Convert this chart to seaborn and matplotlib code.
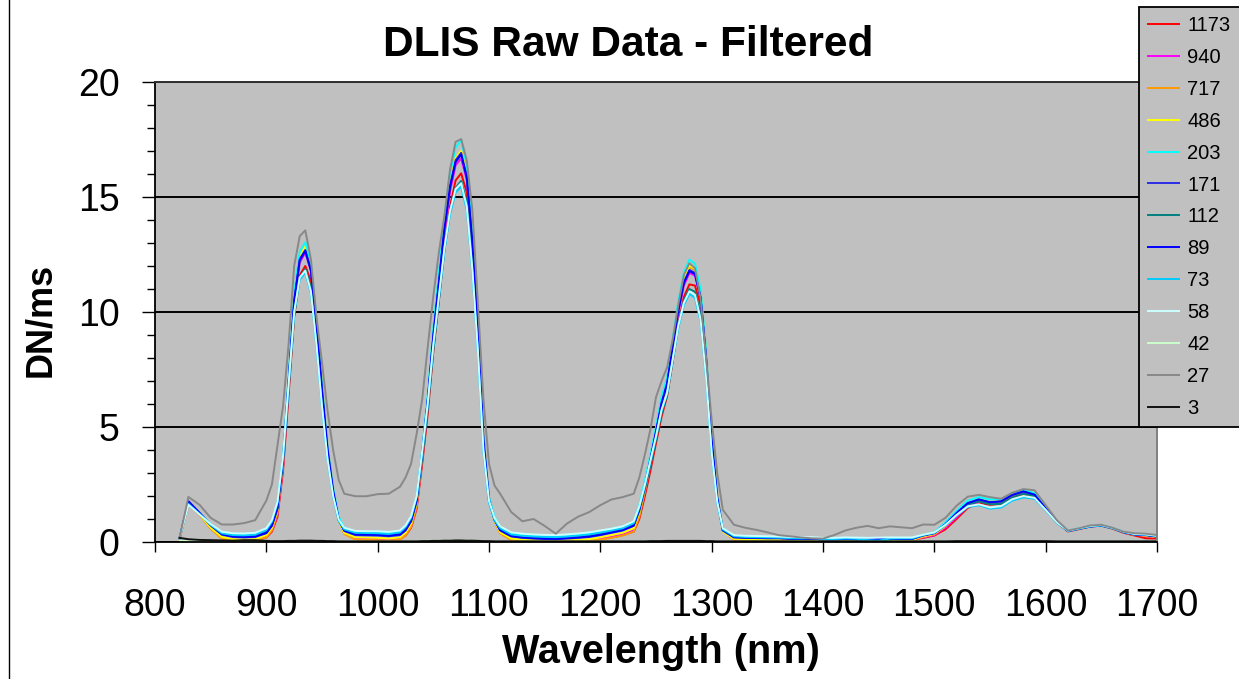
import numpy as np
import pandas as pd
import matplotlib
matplotlib.use("Agg")
import matplotlib.pyplot as plt
from matplotlib.lines import Line2D
from matplotlib.ticker import MultipleLocator
import seaborn as sns

plt.rcParams["font.family"] = ["Liberation Sans", "DejaVu Sans"]

# Shared wavelength grid (nm); finer spacing across the three absorption peaks
wavelength_nm = [
    822, 830, 840, 850, 860, 870, 880, 890, 900,
    905, 910, 915, 920, 925, 930, 935, 940, 945, 950, 955, 960, 965,
    970, 980, 990, 1000, 1010, 1020,
    1025, 1030, 1035, 1040, 1045, 1050, 1055, 1060, 1065, 1070, 1075, 1080, 1085, 1090, 1095, 1100, 1105, 1110,
    1120, 1130, 1140, 1150, 1160, 1170, 1180, 1190, 1200, 1210, 1220, 1230,
    1235, 1240, 1245, 1250, 1255, 1260, 1265, 1270, 1275, 1280, 1285, 1290, 1295, 1300, 1305, 1310,
    1320, 1330, 1340, 1350, 1360, 1370, 1380, 1390, 1400, 1410, 1420, 1430, 1440, 1450, 1460, 1470, 1480,
    1490, 1500, 1510, 1520, 1530, 1540, 1550, 1560, 1570, 1580, 1590, 1600, 1610, 1620, 1630, 1640, 1650,
    1660, 1670, 1680, 1690, 1700,
]

dn_1173 = [
    0.12, 1.65, 1.20, 0.60, 0.18, 0.08, 0.07, 0.08, 0.20,
    0.45, 1.10, 3.10, 6.40, 9.80, 11.60, 12.00, 11.35, 9.20, 6.50, 4.00, 2.25, 1.00,
    0.40, 0.12, 0.11, 0.10, 0.08, 0.12,
    0.28, 0.62, 1.45, 3.40, 5.60, 8.30, 10.50, 12.85, 14.60, 15.72, 16.03, 15.20, 12.70, 9.20, 4.60, 1.95, 0.95, 0.42,
    0.10, 0.06, 0.05, 0.04, 0.04, 0.05, 0.06, 0.08, 0.13, 0.20, 0.30, 0.45,
    1.00, 2.00, 3.10, 4.30, 5.45, 6.35, 7.85, 9.45, 10.65, 11.20, 11.15, 10.30, 7.95, 4.55, 2.05, 0.55,
    0.12, 0.10, 0.10, 0.10, 0.10, 0.09, 0.08, 0.09, 0.06, 0.06, 0.07, 0.07, 0.07, 0.07, 0.08, 0.08, 0.09,
    0.18, 0.28, 0.55, 1.00, 1.48, 1.70, 1.62, 1.66, 1.92, 2.05, 1.98, 1.42, 0.86, 0.46, 0.56, 0.67, 0.71,
    0.58, 0.40, 0.28, 0.16, 0.15,
]
dn_940 = [
    0.12, 1.68, 1.20, 0.60, 0.18, 0.08, 0.07, 0.08, 0.22,
    0.50, 1.20, 3.30, 6.70, 10.25, 12.15, 12.58, 11.80, 9.50, 6.70, 4.10, 2.25, 0.95,
    0.38, 0.14, 0.13, 0.12, 0.10, 0.14,
    0.32, 0.68, 1.55, 3.60, 5.90, 8.75, 11.05, 13.45, 15.25, 16.38, 16.68, 15.75, 13.05, 9.35, 4.55, 1.90, 0.90, 0.40,
    0.10, 0.06, 0.05, 0.04, 0.04, 0.05, 0.06, 0.08, 0.14, 0.22, 0.32, 0.50,
    1.15, 2.20, 3.35, 4.60, 5.80, 6.75, 8.35, 9.95, 11.15, 11.70, 11.58, 10.60, 8.05, 4.50, 1.95, 0.48,
    0.12, 0.10, 0.10, 0.10, 0.10, 0.09, 0.08, 0.09, 0.06, 0.06, 0.07, 0.07, 0.07, 0.07, 0.08, 0.08, 0.09,
    0.20, 0.30, 0.62, 1.08, 1.55, 1.76, 1.68, 1.72, 1.98, 2.12, 2.02, 1.45, 0.88, 0.47, 0.57, 0.68, 0.72,
    0.60, 0.42, 0.31, 0.28, 0.20,
]
dn_717 = [
    0.10, 1.65, 1.18, 0.58, 0.15, 0.06, 0.05, 0.06, 0.20,
    0.50, 1.25, 3.40, 6.85, 10.45, 12.35, 12.78, 11.98, 9.65, 6.80, 4.15, 2.30, 0.95,
    0.35, 0.10, 0.09, 0.08, 0.06, 0.10,
    0.28, 0.65, 1.55, 3.65, 6.00, 8.90, 11.25, 13.70, 15.55, 16.68, 16.97, 16.00, 13.25, 9.50, 4.60, 1.90, 0.90, 0.38,
    0.08, 0.05, 0.04, 0.04, 0.03, 0.04, 0.05, 0.06, 0.10, 0.18, 0.28, 0.45,
    1.10, 2.20, 3.40, 4.65, 5.90, 6.85, 8.50, 10.15, 11.40, 11.95, 11.82, 10.80, 8.20, 4.60, 2.00, 0.50,
    0.10, 0.08, 0.08, 0.08, 0.08, 0.07, 0.06, 0.07, 0.05, 0.05, 0.06, 0.06, 0.06, 0.06, 0.07, 0.07, 0.08,
    0.22, 0.33, 0.68, 1.15, 1.62, 1.82, 1.72, 1.76, 2.03, 2.18, 2.06, 1.47, 0.88, 0.47, 0.57, 0.68, 0.73,
    0.60, 0.42, 0.31, 0.28, 0.20,
]
dn_486 = [
    0.12, 1.70, 1.20, 0.62, 0.22, 0.12, 0.10, 0.12, 0.30,
    0.62, 1.40, 3.60, 7.05, 10.60, 12.43, 12.84, 11.98, 9.60, 6.70, 4.05, 2.20, 0.90,
    0.40, 0.20, 0.19, 0.18, 0.15, 0.20,
    0.40, 0.80, 1.75, 3.85, 6.20, 9.05, 11.35, 13.78, 15.60, 16.70, 17.01, 16.00, 13.20, 9.40, 4.45, 1.80, 0.90, 0.42,
    0.15, 0.10, 0.08, 0.06, 0.05, 0.07, 0.09, 0.12, 0.20, 0.30, 0.40, 0.60,
    1.30, 2.40, 3.60, 4.85, 6.10, 7.00, 8.65, 10.25, 11.47, 12.02, 11.88, 10.80, 8.15, 4.50, 1.95, 0.45,
    0.14, 0.12, 0.12, 0.12, 0.12, 0.10, 0.09, 0.10, 0.07, 0.07, 0.08, 0.08, 0.04, 0.00, 0.08, 0.09, 0.10,
    0.25, 0.36, 0.72, 1.20, 1.65, 1.85, 1.74, 1.78, 2.06, 2.22, 2.08, 1.47, 0.88, 0.47, 0.57, 0.68, 0.72,
    0.60, 0.42, 0.32, 0.29, 0.22,
]
dn_203 = [
    0.15, 1.70, 1.25, 0.78, 0.42, 0.35, 0.33, 0.36, 0.55,
    0.90, 1.65, 3.75, 7.20, 10.80, 12.62, 13.03, 12.15, 9.75, 6.80, 4.15, 2.35, 1.10,
    0.62, 0.45, 0.44, 0.45, 0.42, 0.46,
    0.66, 1.05, 1.95, 4.05, 6.40, 9.30, 11.70, 14.15, 16.00, 17.15, 17.48, 16.40, 13.50, 9.60, 4.60, 1.95, 1.10, 0.65,
    0.38, 0.30, 0.26, 0.24, 0.22, 0.26, 0.32, 0.38, 0.47, 0.57, 0.67, 0.88,
    1.60, 2.65, 3.80, 5.00, 6.30, 7.15, 8.80, 10.45, 11.70, 12.28, 12.10, 11.00, 8.30, 4.60, 2.00, 0.60,
    0.25, 0.22, 0.20, 0.20, 0.18, 0.16, 0.15, 0.15, 0.12, 0.12, 0.13, 0.12, 0.05, 0.03, 0.12, 0.13, 0.14,
    0.30, 0.42, 0.85, 1.35, 1.80, 1.95, 1.85, 1.86, 2.12, 2.27, 2.12, 1.50, 0.90, 0.50, 0.60, 0.70, 0.74,
    0.62, 0.44, 0.34, 0.32, 0.25,
]
dn_171 = [
    0.15, 1.74, 1.25, 0.72, 0.32, 0.22, 0.20, 0.22, 0.38,
    0.70, 1.45, 3.60, 7.00, 10.50, 12.30, 12.70, 11.85, 9.50, 6.60, 4.00, 2.20, 0.95,
    0.48, 0.30, 0.29, 0.28, 0.25, 0.30,
    0.50, 0.90, 1.80, 3.90, 6.20, 9.00, 11.30, 13.70, 15.50, 16.60, 16.92, 15.90, 13.10, 9.30, 4.40, 1.80, 0.95, 0.50,
    0.24, 0.18, 0.15, 0.13, 0.12, 0.15, 0.18, 0.22, 0.30, 0.40, 0.50, 0.70,
    1.40, 2.45, 3.60, 4.80, 6.05, 6.90, 8.50, 10.10, 11.30, 11.83, 11.70, 10.65, 8.00, 4.40, 1.90, 0.50,
    0.20, 0.18, 0.17, 0.16, 0.16, 0.14, 0.13, 0.14, 0.10, 0.10, 0.12, 0.11, 0.10, 0.12, 0.13, 0.13, 0.13,
    0.28, 0.38, 0.76, 1.25, 1.68, 1.84, 1.72, 1.76, 2.04, 2.19, 2.05, 1.45, 0.87, 0.47, 0.57, 0.67, 0.71,
    0.60, 0.42, 0.32, 0.30, 0.23,
]
dn_112 = [
    0.15, 1.70, 1.25, 0.74, 0.36, 0.27, 0.25, 0.27, 0.43,
    0.75, 1.45, 3.45, 6.60, 9.85, 11.50, 11.87, 11.08, 8.90, 6.20, 3.80, 2.10, 0.95,
    0.52, 0.35, 0.34, 0.33, 0.30, 0.35,
    0.55, 0.92, 1.75, 3.65, 5.80, 8.35, 10.50, 12.70, 14.38, 15.40, 15.70, 14.80, 12.20, 8.70, 4.20, 1.80, 0.98, 0.55,
    0.29, 0.23, 0.20, 0.18, 0.17, 0.20, 0.23, 0.27, 0.35, 0.45, 0.55, 0.75,
    1.35, 2.30, 3.35, 4.45, 5.60, 6.40, 7.90, 9.40, 10.50, 11.00, 10.88, 9.90, 7.45, 4.10, 1.80, 0.50,
    0.22, 0.20, 0.19, 0.18, 0.18, 0.16, 0.15, 0.16, 0.12, 0.12, 0.14, 0.13, 0.12, 0.14, 0.15, 0.15, 0.15,
    0.30, 0.40, 0.76, 1.22, 1.62, 1.76, 1.64, 1.66, 1.94, 2.10, 1.98, 1.42, 0.86, 0.48, 0.58, 0.68, 0.72,
    0.60, 0.43, 0.33, 0.31, 0.24,
]
dn_89 = [
    0.15, 1.78, 1.27, 0.74, 0.34, 0.24, 0.22, 0.24, 0.40,
    0.72, 1.48, 3.62, 6.98, 10.45, 12.25, 12.65, 11.80, 9.48, 6.60, 4.02, 2.22, 0.98,
    0.50, 0.33, 0.32, 0.31, 0.28, 0.33,
    0.52, 0.92, 1.82, 3.90, 6.18, 8.95, 11.25, 13.62, 15.42, 16.52, 16.85, 15.85, 13.08, 9.30, 4.42, 1.82, 0.97, 0.52,
    0.26, 0.20, 0.17, 0.15, 0.14, 0.17, 0.20, 0.24, 0.32, 0.42, 0.52, 0.72,
    1.42, 2.45, 3.58, 4.78, 6.02, 6.88, 8.46, 10.05, 11.25, 11.78, 11.65, 10.62, 8.00, 4.42, 1.92, 0.52,
    0.21, 0.19, 0.18, 0.17, 0.17, 0.15, 0.14, 0.15, 0.11, 0.11, 0.13, 0.12, 0.11, 0.13, 0.14, 0.14, 0.14,
    0.29, 0.39, 0.77, 1.26, 1.69, 1.85, 1.73, 1.77, 2.05, 2.20, 2.06, 1.46, 0.88, 0.48, 0.58, 0.68, 0.72,
    0.61, 0.43, 0.33, 0.31, 0.24,
]
dn_73 = [
    0.15, 1.65, 1.22, 0.75, 0.38, 0.30, 0.29, 0.32, 0.52,
    0.88, 1.70, 3.70, 6.80, 9.95, 11.40, 11.71, 10.82, 8.50, 5.85, 3.55, 1.95, 0.92,
    0.55, 0.40, 0.39, 0.38, 0.35, 0.42,
    0.65, 1.05, 1.95, 3.90, 6.00, 8.50, 10.60, 12.70, 14.25, 15.20, 15.45, 14.45, 11.75, 8.25, 3.90, 1.70, 0.95, 0.60,
    0.33, 0.27, 0.24, 0.22, 0.21, 0.24, 0.28, 0.33, 0.41, 0.50, 0.60, 0.82,
    1.50, 2.45, 3.50, 4.55, 5.70, 6.45, 7.90, 9.30, 10.30, 10.79, 10.62, 9.60, 7.10, 3.85, 1.70, 0.55,
    0.25, 0.22, 0.21, 0.20, 0.19, 0.17, 0.16, 0.17, 0.13, 0.13, 0.15, 0.14, 0.08, 0.06, 0.15, 0.16, 0.16,
    0.30, 0.40, 0.72, 1.15, 1.52, 1.60, 1.45, 1.50, 1.80, 1.94, 1.88, 1.38, 0.84, 0.48, 0.58, 0.68, 0.72,
    0.60, 0.44, 0.34, 0.32, 0.26,
]
dn_58 = [
    0.15, 1.62, 1.20, 0.78, 0.45, 0.38, 0.37, 0.40, 0.60,
    0.95, 1.75, 3.75, 6.85, 10.00, 11.50, 11.80, 10.90, 8.60, 5.90, 3.60, 2.00, 0.98,
    0.62, 0.48, 0.47, 0.47, 0.44, 0.50,
    0.72, 1.12, 2.00, 3.95, 6.05, 8.60, 10.70, 12.80, 14.40, 15.35, 15.60, 14.60, 11.90, 8.35, 4.00, 1.80, 1.05, 0.68,
    0.42, 0.36, 0.33, 0.31, 0.30, 0.33, 0.37, 0.42, 0.50, 0.58, 0.68, 0.90,
    1.55, 2.50, 3.55, 4.60, 5.75, 6.50, 7.95, 9.40, 10.40, 10.90, 10.75, 9.70, 7.20, 3.90, 1.75, 0.60,
    0.30, 0.27, 0.26, 0.25, 0.24, 0.22, 0.21, 0.21, 0.18, 0.18, 0.20, 0.19, 0.18, 0.19, 0.20, 0.20, 0.20,
    0.32, 0.42, 0.75, 1.18, 1.55, 1.64, 1.50, 1.56, 1.86, 2.00, 1.92, 1.40, 0.86, 0.50, 0.60, 0.70, 0.74,
    0.62, 0.45, 0.35, 0.33, 0.27,
]
dn_42 = [
    0.06, 0.04, 0.03, 0.03, 0.02, 0.02, 0.03, 0.02, 0.02,
    0.02, 0.03, 0.03, 0.04, 0.05, 0.05, 0.05, 0.05, 0.04, 0.04, 0.03, 0.03, 0.02,
    0.02, 0.02, 0.02, 0.02, 0.02, 0.02,
    0.02, 0.02, 0.03, 0.04, 0.05, 0.05, 0.06, 0.06, 0.07, 0.07, 0.07, 0.07, 0.06, 0.05, 0.04, 0.03, 0.02, 0.02,
    0.02, 0.02, 0.02, 0.03, 0.02, 0.02, 0.02, 0.02, 0.02, 0.02, 0.02, 0.02,
    0.02, 0.03, 0.03, 0.04, 0.04, 0.05, 0.05, 0.05, 0.05, 0.05, 0.05, 0.05, 0.04, 0.03, 0.02, 0.02,
    0.02, 0.02, 0.02, 0.02, 0.02, 0.02, 0.02, 0.02, 0.02, 0.02, 0.02, 0.02, 0.02, 0.02, 0.02, 0.02, 0.02,
    0.02, 0.02, 0.02, 0.03, 0.03, 0.03, 0.03, 0.03, 0.03, 0.03, 0.03, 0.03, 0.02, 0.02, 0.02, 0.02, 0.02,
    0.02, 0.02, 0.02, 0.02, 0.02,
]
dn_27 = [
    0.15, 1.96, 1.62, 1.05, 0.76, 0.76, 0.82, 0.95, 1.80,
    2.50, 4.20, 5.90, 8.60, 12.00, 13.30, 13.55, 12.30, 9.80, 7.80, 5.70, 4.00, 2.70,
    2.10, 1.99, 1.99, 2.08, 2.10, 2.40,
    2.80, 3.40, 4.70, 6.20, 8.50, 10.70, 12.60, 14.20, 16.20, 17.40, 17.52, 16.60, 14.46, 10.40, 6.20, 3.40, 2.45, 2.10,
    1.30, 0.90, 1.00, 0.70, 0.36, 0.80, 1.10, 1.30, 1.60, 1.85, 1.95, 2.10,
    2.80, 3.80, 4.90, 6.30, 7.00, 7.60, 8.80, 10.30, 11.60, 12.12, 11.90, 10.60, 8.00, 5.30, 3.00, 1.40,
    0.75, 0.62, 0.53, 0.42, 0.30, 0.25, 0.20, 0.16, 0.15, 0.30, 0.50, 0.62, 0.70, 0.60, 0.68, 0.64, 0.60,
    0.76, 0.75, 1.05, 1.58, 1.97, 2.05, 1.95, 1.88, 2.14, 2.30, 2.25, 1.60, 0.95, 0.50, 0.60, 0.72, 0.75,
    0.62, 0.45, 0.38, 0.36, 0.30,
]
dn_3 = [
    0.18, 0.12, 0.09, 0.08, 0.07, 0.06, 0.08, 0.08, 0.05,
    0.04, 0.04, 0.04, 0.05, 0.05, 0.06, 0.06, 0.06, 0.05, 0.05, 0.04, 0.04, 0.03,
    0.03, 0.03, 0.03, 0.03, 0.03, 0.03,
    0.03, 0.03, 0.03, 0.04, 0.04, 0.05, 0.05, 0.06, 0.06, 0.07, 0.07, 0.06, 0.06, 0.05, 0.04, 0.04, 0.03, 0.03,
    0.03, 0.03, 0.03, 0.03, 0.03, 0.03, 0.03, 0.03, 0.03, 0.03, 0.03, 0.03,
    0.03, 0.03, 0.04, 0.04, 0.04, 0.05, 0.05, 0.05, 0.05, 0.05, 0.05, 0.05, 0.04, 0.04, 0.03, 0.03,
    0.03, 0.03, 0.03, 0.03, 0.03, 0.03, 0.03, 0.03, 0.03, 0.03, 0.03, 0.03, 0.03, 0.03, 0.03, 0.03, 0.03,
    0.03, 0.03, 0.03, 0.04, 0.04, 0.04, 0.04, 0.04, 0.04, 0.04, 0.04, 0.04, 0.03, 0.03, 0.03, 0.03, 0.03,
    0.03, 0.03, 0.03, 0.03, 0.03,
]

series_labels = ["1173", "940", "717", "486", "203", "171", "112", "89", "73", "58", "42", "27", "3"]
series_values = [dn_1173, dn_940, dn_717, dn_486, dn_203, dn_171, dn_112,
                 dn_89, dn_73, dn_58, dn_42, dn_27, dn_3]
series_colors = ["#FF0000", "#FF00FF", "#FF9900", "#FFFF00", "#00FFFF", "#2B2BE6", "#008080",
                 "#0000FF", "#00CCFF", "#CCFFFF", "#CCFFCC", "#888888", "#111111"]

# Long-form table: one row per (series, wavelength)
frames = [
    pd.DataFrame({"wavelength": wavelength_nm, "dn_per_ms": vals, "series": lab})
    for lab, vals in zip(series_labels, series_values)
]
df = pd.concat(frames, ignore_index=True)
palette = dict(zip(series_labels, series_colors))

W, H = 1239, 679
fig = plt.figure(figsize=(W / 100, H / 100), dpi=100)
fig.patch.set_facecolor("white")

ax_l, ax_r, ax_t, ax_b = 155, 1157, 82, 542
ax = fig.add_axes([ax_l / W, 1 - ax_b / H, (ax_r - ax_l) / W, (ax_b - ax_t) / H])
ax.set_facecolor("#C0C0C0")
ax.set_axisbelow(True)

sns.lineplot(data=df, x="wavelength", y="dn_per_ms", hue="series", hue_order=series_labels,
             palette=palette, linewidth=1.4, estimator=None, sort=False, legend=False, ax=ax)

ax.set_xlim(800, 1700)
ax.set_ylim(0, 20)
ax.xaxis.set_major_locator(MultipleLocator(100))
ax.yaxis.set_major_locator(MultipleLocator(5))
ax.yaxis.set_minor_locator(MultipleLocator(1))
ax.tick_params(axis="y", which="major", direction="out", length=9.5, width=1.0,
               labelsize=27, pad=16, color="black")
ax.tick_params(axis="y", which="minor", direction="out", length=5.5, width=1.0, color="black")
ax.tick_params(axis="x", which="major", direction="out", length=7, width=1.0,
               labelsize=27, pad=26, color="black")
ax.grid(axis="y", which="major", color="black", linewidth=1.4)

for side in ("left", "bottom"):
    ax.spines[side].set_color("black")
    ax.spines[side].set_linewidth(1.3)
ax.spines["top"].set_color("#303030")
ax.spines["top"].set_linewidth(1.4)
ax.spines["right"].set_color("#808080")
ax.spines["right"].set_linewidth(1.4)

ax.set_xlabel("Wavelength (nm)", fontsize=28.5, fontweight="bold")
ax.xaxis.label.set_va("center")
ax.xaxis.set_label_coords((661 - ax_l) / (ax_r - ax_l), (ax_b - 652) / (ax_b - ax_t))
ax.set_ylabel("DN/ms", fontsize=26, fontweight="bold")
ax.yaxis.label.set_va("center")
ax.yaxis.label.set_ha("center")
ax.yaxis.set_label_coords((41 - ax_l) / (ax_r - ax_l), (ax_b - 320) / (ax_b - ax_t))

fig.text(628 / W, 1 - 45 / H, "DLIS Raw Data - Filtered", ha="center", va="center",
         fontsize=30.5, fontweight="bold")

handles = [Line2D([], [], color=c, linewidth=1.4) for c in series_colors]
leg = fig.legend(handles, series_labels, loc="upper left",
                 bbox_to_anchor=(1139 / W, 1 - 7 / H), bbox_transform=fig.transFigure,
                 frameon=True, fancybox=False, facecolor="#C0C0C0", edgecolor="black",
                 framealpha=1, fontsize=14.5, handlelength=1.55, handletextpad=0.4,
                 labelspacing=0.64, borderpad=0.45, borderaxespad=0)
leg.get_frame().set_linewidth(1.3)

# chart-area border on the left edge
fig.add_artist(Line2D([8.5 / W, 8.5 / W], [0, 1], transform=fig.transFigure,
                      color="black", linewidth=1.0))

fig.savefig("out.png", dpi=100, facecolor="white")
